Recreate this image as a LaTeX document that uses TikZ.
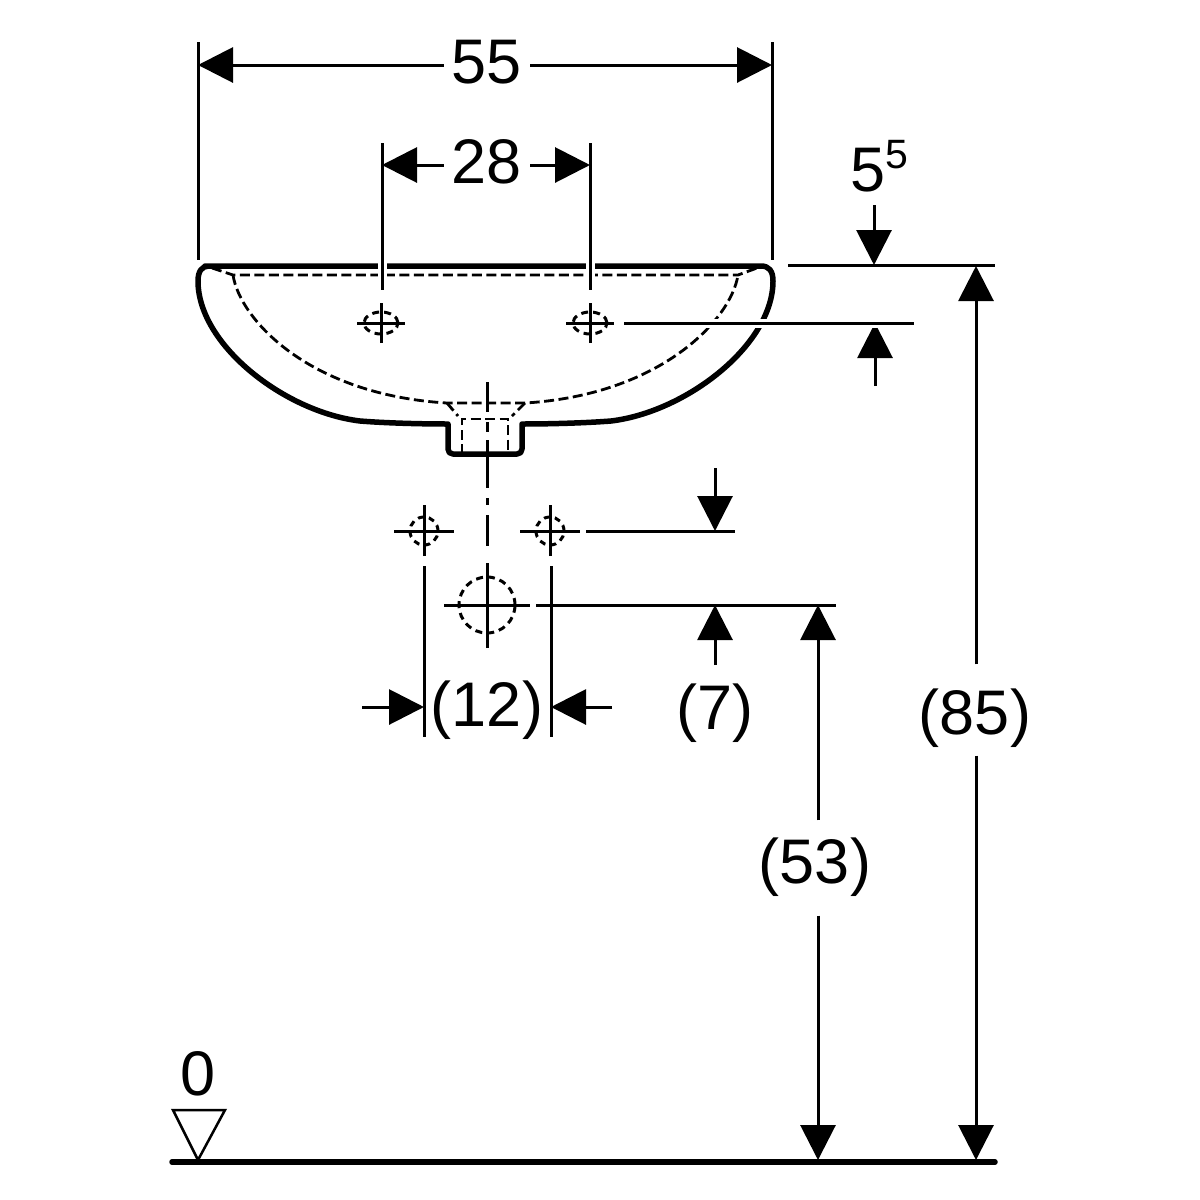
\documentclass[tikz,border=0pt]{standalone}
\usepackage{fontspec}
\setmainfont{Liberation Sans}
\usetikzlibrary{arrows.meta,positioning}

\begin{document}
\begin{tikzpicture}[
    x=1pt,
    y=-1pt,
    outline/.style={line width=5.5pt, line cap=round, line join=round},
    hidden/.style={line width=2.8pt, dash pattern=on 10pt off 4.5pt},
    holeline/.style={line width=3pt, dash pattern=on 7pt off 5pt},
    thin line/.style={line width=3pt},
    halo/.style={thin line, preaction={draw=white, line width=9pt}},
    arrow/.style={line width=3pt, -{Triangle[length=35pt,width=35pt]}},
    lab/.style={font=\fontsize{63}{63}\selectfont, inner sep=0pt},
    dim/.style={lab, inner xsep=8pt, outer sep=0pt}
]
\useasboundingbox (0,0) rectangle (1200,1200);
% Basin outline
\draw[outline] (205,266) -- (761,266)
    .. controls (769,266) and (773,271) .. (773,281)
    .. controls (773,345) and (686,412) .. (611,421)
    .. controls (585,423) and (550,424) .. (522,424)
    -- (522,449) .. controls (522,452) and (520,454) .. (517,454)
    -- (453,454) .. controls (450,454) and (448,452) .. (448,449)
    -- (448,424)
    .. controls (420,424) and (385,423) .. (360,421)
    .. controls (285,412) and (198,345) .. (198,281)
    .. controls (198,271) and (202,266) .. (209,266) -- cycle;
% Inner bowl, hidden edges
\draw[hidden] (212,268) -- (233,275) -- (738,275) -- (757,268);
\draw[hidden] (233,275) .. controls (240,320) and (310,395) .. (447,403) -- (525,403)
    .. controls (660,395) and (731,320) .. (738,275);
\draw[hidden] (447,403) -- (458,416);
\draw[hidden] (525,403) -- (512,416);
\draw[hidden] (462,454) -- (462,419) -- (508,419) -- (508,454);
% Tap holes
\foreach \name/\xc in {holea/381,holeb/590} {
    \coordinate (\name) at (\xc,323);
    \draw[holeline] (\name) ellipse [x radius=17pt, y radius=11pt];
    \draw[thin line] ([xshift=-24pt]\name) -- ([xshift=24pt]\name);
    \draw[thin line] ([yshift=-20pt]\name) -- ([yshift=20pt]\name);
}
% Wall fixings
\foreach \name/\xc in {fixa/424,fixb/550} {
    \coordinate (\name) at (\xc,531);
    \draw[holeline, dash pattern=on 6pt off 5pt] (\name) circle [radius=14pt];
    \draw[thin line] ([xshift=-30pt]\name) -- ([xshift=30pt]\name);
    \draw[thin line] ([yshift=-25pt]\name) -- ([yshift=26pt]\name);
}
% Waste pipe
\coordinate (waste) at (487,605);
\draw[holeline] (waste) circle [radius=28pt];
\draw[thin line] ([xshift=-43pt]waste) -- ([xshift=43pt]waste);
\draw[thin line] ([yshift=-43pt]waste) -- ([yshift=42pt]waste);
\foreach \ya/\yb in {382/412,422/432,440/488,498/505,515/546}
    \draw[thin line] (487,\ya) -- (487,\yb);
% Width 55
\coordinate (wl) at (198,65);
\coordinate (wr) at (772,65);
\node[dim] (lab55) at (487,62) {55};
\draw[thin line] (198,42) -- (198,260);
\draw[thin line] (772,42) -- (772,260);
\draw[arrow] (lab55.west |- wl) -- (wl);
\draw[arrow] (lab55.east |- wr) -- (wr);
% Tap spacing 28
\coordinate (tl) at (382,165);
\coordinate (tr) at (590,165);
\node[dim] (lab28) at (487,162) {28};
\draw[halo] (382,143) -- (382,290);
\draw[halo] (590,143) -- (590,290);
\draw[arrow] (lab28.west |- tl) -- (tl);
\draw[arrow] (lab28.east |- tr) -- (tr);
% Rim 5^5
\node[lab] (lab5) at (868,170) {5};
\node[font=\fontsize{41}{41}\selectfont, inner sep=0pt] (lab5s) at (897,155) {5};
\coordinate (rimtop) at (874,205);
\coordinate (rimtip) at (874,265);
\coordinate (rimup) at (875,386);
\coordinate (rimlow) at (875,323);
\draw[arrow] (rimtop) -- (rimtip);
\draw[arrow] (rimup) -- (rimlow);
\draw[thin line] (788,265) -- (995,265);
\draw[halo] (624,323) -- (914,323);
% Fixing height
\coordinate (fixtop) at (715,468);
\coordinate (fixtip) at (715,531);
\draw[arrow] (fixtop) -- (fixtip);
\draw[thin line] (586,531) -- (735,531);
\draw[thin line] (536,605) -- (836,605);
\node[lab] (lab7) at (715,713) {(7)};
\coordinate (fixup) at (715,665);
\coordinate (wastetip) at (715,605);
\draw[arrow] (fixup) -- (wastetip);
% Fixing spacing (12)
\draw[thin line] (424,566) -- (424,737);
\draw[thin line] (551,566) -- (551,737);
\coordinate (sl) at (362,707);
\coordinate (sltip) at (424,707);
\coordinate (sr) at (612,707);
\coordinate (srtip) at (551,707);
\draw[arrow] (sl) -- (sltip);
\draw[arrow] (sr) -- (srtip);
\node[lab] (lab12) at (487,710) {(12)};
% Floor
\coordinate (floorl) at (172,1162);
\coordinate (floorr) at (995,1162);
\draw[line width=5.5pt, line cap=round] (floorl) -- (floorr);
\node[lab] (lab0) at (198,1074) {0};
\draw[line width=2.5pt, line join=miter] (173,1110) -- (225,1110) -- (198,1160) -- cycle;
% Height (53)
\coordinate (ha) at (818,605);
\coordinate (hb) at (818,1160);
\node[lab] (lab53) at (815,867) {(53)};
\draw[arrow] ([yshift=17pt]lab53.north -| ha) -- (ha);
\draw[arrow] ([yshift=-19pt]lab53.south -| hb) -- (hb);
% Height (85)
\coordinate (hc) at (976,266);
\coordinate (hd) at (976,1160);
\node[lab] (lab85) at (975,718) {(85)};
\draw[arrow] ([yshift=24pt]lab85.north -| hc) -- (hc);
\draw[arrow] ([yshift=-8pt]lab85.south -| hd) -- (hd);
\end{tikzpicture}
\end{document}
